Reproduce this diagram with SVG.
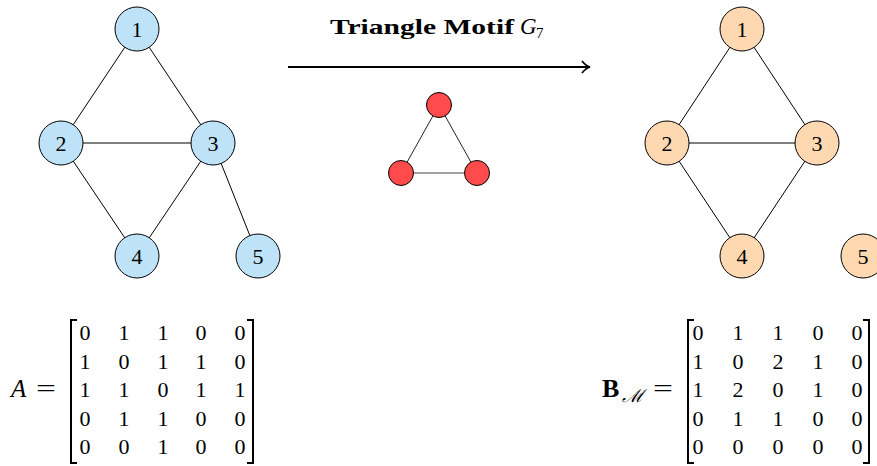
<svg xmlns="http://www.w3.org/2000/svg" width="877" height="466" viewBox="0 0 877 466">
<style>
.edge{stroke:#000;stroke-width:1;fill:none}
.n{stroke:#000;stroke-width:1}
.blue{fill:#bee3f8}
.peach{fill:#fed8b1}
.red{fill:#ff4b4b}
.lbl{font-family:"Liberation Serif","DejaVu Serif",serif;font-size:22px;text-anchor:middle;fill:#000}
.m{font-family:"Liberation Serif","DejaVu Serif",serif;font-size:22px;text-anchor:middle;fill:#000}
.br{stroke:#000;stroke-width:2;fill:none}
.serif{font-family:"Liberation Serif","DejaVu Serif",serif;fill:#000}
</style>
<defs>
<marker id="arr" viewBox="0 0 10 14" refX="9" refY="7" markerWidth="10" markerHeight="14" markerUnits="userSpaceOnUse" orient="auto">
<path d="M1,1 Q5,6 9,7 Q5,8 1,13" fill="none" stroke="#000" stroke-width="1.8"/>
</marker>
</defs>
<g id="connectors">
<line class="edge" x1="137" y1="29" x2="61" y2="143"/>
<line class="edge" x1="137" y1="29" x2="213" y2="143"/>
<line class="edge" x1="61" y1="143" x2="213" y2="143"/>
<line class="edge" x1="61" y1="143" x2="137" y2="256"/>
<line class="edge" x1="213" y1="143" x2="137" y2="256"/>
<line class="edge" x1="213" y1="143" x2="258" y2="256"/>
<line class="edge" x1="742" y1="29" x2="667" y2="143"/>
<line class="edge" x1="742" y1="29" x2="817" y2="143"/>
<line class="edge" x1="667" y1="143" x2="817" y2="143"/>
<line class="edge" x1="667" y1="143" x2="742" y2="256"/>
<line class="edge" x1="817" y1="143" x2="742" y2="256"/>
<line class="edge" x1="439" y1="105" x2="401" y2="173" style="stroke:#222"/>
<line class="edge" x1="439" y1="105" x2="477" y2="173" style="stroke:#222"/>
<line class="edge" x1="401" y1="173" x2="477" y2="173" style="stroke:#444"/>
<line x1="288" y1="67" x2="590" y2="67" stroke="#000" stroke-width="1.8" marker-end="url(#arr)"/>
</g>
<g id="L1"><circle class="n blue" cx="137" cy="29" r="22"/><text class="lbl" x="137" y="36.5">1</text></g>
<g id="L2"><circle class="n blue" cx="61" cy="143" r="22"/><text class="lbl" x="61" y="150.5">2</text></g>
<g id="L3"><circle class="n blue" cx="213" cy="143" r="22"/><text class="lbl" x="213" y="150.5">3</text></g>
<g id="L4"><circle class="n blue" cx="137" cy="256" r="22"/><text class="lbl" x="137" y="263.5">4</text></g>
<g id="L5"><circle class="n blue" cx="258" cy="256" r="22"/><text class="lbl" x="258" y="263.5">5</text></g>
<g id="R1"><circle class="n peach" cx="742" cy="29" r="22"/><text class="lbl" x="742" y="36.5">1</text></g>
<g id="R2"><circle class="n peach" cx="667" cy="143" r="22"/><text class="lbl" x="667" y="150.5">2</text></g>
<g id="R3"><circle class="n peach" cx="817" cy="143" r="22"/><text class="lbl" x="817" y="150.5">3</text></g>
<g id="R4"><circle class="n peach" cx="742" cy="256" r="22"/><text class="lbl" x="742" y="263.5">4</text></g>
<g id="R5"><circle class="n peach" cx="863" cy="256" r="22"/><text class="lbl" x="863" y="263.5">5</text></g>
<g id="T1"><circle class="n red" cx="439" cy="105" r="12.5"/></g>
<g id="T2"><circle class="n red" cx="401" cy="173" r="12.5"/></g>
<g id="T3"><circle class="n red" cx="477" cy="173" r="12.5"/></g>
<g id="title">
<text class="serif" x="330" y="34" font-size="22" font-weight="bold" textLength="184" lengthAdjust="spacingAndGlyphs">Triangle Motif</text>
<text class="serif" x="520" y="34" font-size="23" font-style="italic">G</text>
<text class="serif" x="536" y="38" font-size="15">7</text>
</g>
<g id="matrixA">
<text class="serif" x="11" y="397" font-size="25" font-style="italic">A</text>
<text class="serif" x="36" y="397" font-size="25" textLength="20" lengthAdjust="spacingAndGlyphs">=</text>
<path class="br" d="M77,320 H71 V463 H77"/>
<path class="br" d="M247,320 H253 V463 H247"/>
<g class="m">
<text x="85" y="340">0</text><text x="124" y="340">1</text><text x="163" y="340">1</text><text x="201" y="340">0</text><text x="240" y="340">0</text>
<text x="85" y="368.5">1</text><text x="124" y="368.5">0</text><text x="163" y="368.5">1</text><text x="201" y="368.5">1</text><text x="240" y="368.5">0</text>
<text x="85" y="397">1</text><text x="124" y="397">1</text><text x="163" y="397">0</text><text x="201" y="397">1</text><text x="240" y="397">1</text>
<text x="85" y="425.5">0</text><text x="124" y="425.5">1</text><text x="163" y="425.5">1</text><text x="201" y="425.5">0</text><text x="240" y="425.5">0</text>
<text x="85" y="454">0</text><text x="124" y="454">0</text><text x="163" y="454">1</text><text x="201" y="454">0</text><text x="240" y="454">0</text>
</g>
</g>
<g id="matrixB">
<text class="serif" x="602" y="397" font-size="26" font-weight="bold">B</text>
<text class="serif" x="622" y="402" font-size="18" font-style="italic" textLength="22" lengthAdjust="spacingAndGlyphs">ℳ</text>
<text class="serif" x="653" y="397" font-size="25" textLength="20" lengthAdjust="spacingAndGlyphs">=</text>
<path class="br" d="M694,320 H688 V463 H694"/>
<path class="br" d="M863,320 H869 V463 H863"/>
<g class="m">
<text x="698" y="340">0</text><text x="738" y="340">1</text><text x="778" y="340">1</text><text x="818" y="340">0</text><text x="857" y="340">0</text>
<text x="698" y="368.5">1</text><text x="738" y="368.5">0</text><text x="778" y="368.5">2</text><text x="818" y="368.5">1</text><text x="857" y="368.5">0</text>
<text x="698" y="397">1</text><text x="738" y="397">2</text><text x="778" y="397">0</text><text x="818" y="397">1</text><text x="857" y="397">0</text>
<text x="698" y="425.5">0</text><text x="738" y="425.5">1</text><text x="778" y="425.5">1</text><text x="818" y="425.5">0</text><text x="857" y="425.5">0</text>
<text x="698" y="454">0</text><text x="738" y="454">0</text><text x="778" y="454">0</text><text x="818" y="454">0</text><text x="857" y="454">0</text>
</g>
</g>
</svg>
